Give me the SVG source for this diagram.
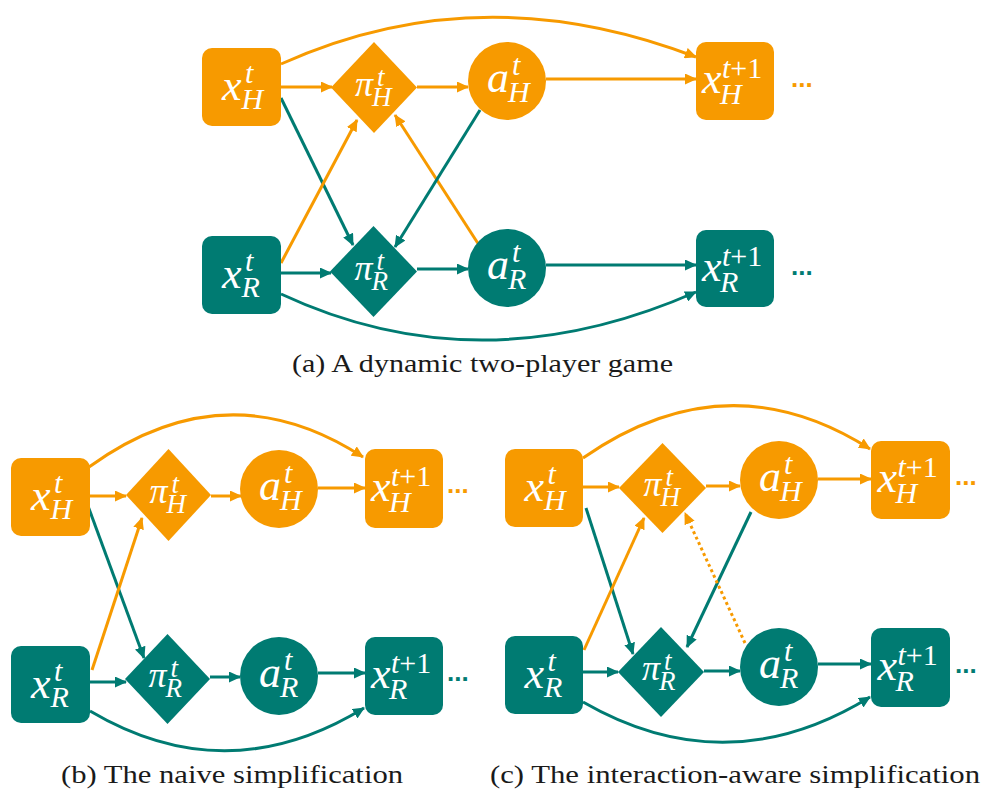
<svg xmlns="http://www.w3.org/2000/svg" width="982" height="793" viewBox="0 0 982 793" font-family="Liberation Serif, Times New Roman, serif">
  <style>
    .o { fill: #F79A00; }
    .t { fill: #007B72; }
    .eo { fill: none; stroke: #F79A00; stroke-width: 3; marker-end: url(#ah-o); }
    .et { fill: none; stroke: #007B72; stroke-width: 3; marker-end: url(#ah-t); }
    .dot { stroke-dasharray: 3 3; }
    .lbl { fill: #ffffff; font-style: italic; }
    .m { font-size: 44px; }
    .mp { font-size: 36px; }
    .s { font-size: 30px; }
    .sp { font-size: 27px; }
    .up { font-style: normal; }
    .cap { fill: #1a1a1a; font-size: 25px; }
    .ell { font-weight: bold; font-size: 26px; }
  </style>
  <defs>
    <marker id="ah-o" viewBox="0 0 12 11" refX="11" refY="5.5" markerWidth="12" markerHeight="11" markerUnits="userSpaceOnUse" orient="auto">
      <path d="M0,0 L12,5.5 L0,11 z" fill="#F79A00"/>
    </marker>
    <marker id="ah-t" viewBox="0 0 12 11" refX="11" refY="5.5" markerWidth="12" markerHeight="11" markerUnits="userSpaceOnUse" orient="auto">
      <path d="M0,0 L12,5.5 L0,11 z" fill="#007B72"/>
    </marker>
  </defs>

  <!-- ===== connectors ===== -->
  <g id="edges">
    <!-- (a) -->
    <path class="eo" d="M281,64 Q480,-26 696,57"/>
    <path class="eo" d="M281,87 L332,87"/>
    <path class="eo" d="M417,87 L468,87"/>
    <path class="eo" d="M546,79 L696,79"/>
    <path class="et" d="M281,98 L353,245"/>
    <path class="eo" d="M281,263 L357,120"/>
    <path class="eo" d="M479,245 L395,115"/>
    <path class="et" d="M480,110 L395,247"/>
    <path class="et" d="M281,273 L331,273"/>
    <path class="et" d="M417,269 L468,269"/>
    <path class="et" d="M546,265 L696,265"/>
    <path class="et" d="M281,294 Q480,387 696,292"/>

    <!-- (b) -->
    <path class="eo" d="M89,467 Q226,368 363,457"/>
    <path class="eo" d="M90,496 L126,496"/>
    <path class="eo" d="M211,496 L241,496"/>
    <path class="eo" d="M318,488 L365,488"/>
    <path class="et" d="M88,506 L144,658"/>
    <path class="eo" d="M92,670 L142,518"/>
    <path class="et" d="M90,682 L126,682"/>
    <path class="et" d="M210,677 L240,677"/>
    <path class="et" d="M318,673 L365,673"/>
    <path class="et" d="M90,711 Q227,792 364,708"/>

    <!-- (c) -->
    <path class="eo" d="M583,458 Q727,358 870,449"/>
    <path class="eo" d="M583,487 L619,487"/>
    <path class="eo" d="M706,486 L740,486"/>
    <path class="eo" d="M818,479 L871,479"/>
    <path class="et" d="M586,508 L633,654"/>
    <path class="eo" d="M584,650 L644,518"/>
    <path class="et" d="M751,512 L687,647"/>
    <path class="eo dot" d="M745,643 L685,513"/>
    <path class="et" d="M583,672 L618,672"/>
    <path class="et" d="M704,671 L740,671"/>
    <path class="et" d="M818,664 L871,664"/>
    <path class="et" d="M583,702 Q727,785 870,697"/>
  </g>

  <!-- ===== panel (a) nodes ===== -->
  <g id="a-xH" transform="translate(241.5,87)">
    <rect class="o" x="-39.5" y="-39" width="79" height="78" rx="10"/>
    <text class="lbl" font-family="Liberation Serif"><tspan class="m" x="-19.5" y="13">x</tspan><tspan class="s" x="3.5" y="-4">t</tspan><tspan class="s" x="0" y="22">H</tspan></text>
  </g>
  <g id="a-piH" transform="translate(374,87.5)">
    <path class="o" d="M0,-45.5 L43,0 L0,45.5 L-43,0 z"/>
    <text class="lbl" font-family="Liberation Serif"><tspan class="mp" x="-19" y="8">π</tspan><tspan class="sp" x="3" y="-2">t</tspan><tspan class="sp" x="-2" y="18">H</tspan></text>
  </g>
  <g id="a-aH" transform="translate(507,81)">
    <circle class="o" r="39"/>
    <text class="lbl" font-family="Liberation Serif"><tspan class="m" x="-20" y="11">a</tspan><tspan class="s" x="5" y="-6">t</tspan><tspan class="s" x="1" y="21">H</tspan></text>
  </g>
  <g id="a-xH1" transform="translate(735,81)">
    <rect class="o" x="-39" y="-39" width="78" height="78" rx="10"/>
    <text class="lbl" font-family="Liberation Serif"><tspan class="m" x="-33" y="12">x</tspan><tspan class="s" x="-13" y="-3">t<tspan class="up">+1</tspan></tspan><tspan class="s" x="-15" y="23">H</tspan></text>
    <text class="ell o" x="56" y="6" font-family="Liberation Sans">...</text>
  </g>
  <g id="a-xR" transform="translate(241.5,275)">
    <rect class="t" x="-39.5" y="-39" width="79" height="78" rx="10"/>
    <text class="lbl" font-family="Liberation Serif"><tspan class="m" x="-19.5" y="13">x</tspan><tspan class="s" x="3.5" y="-4">t</tspan><tspan class="s" x="0" y="22">R</tspan></text>
  </g>
  <g id="a-piR" transform="translate(373.5,271.5)">
    <path class="t" d="M0,-45.5 L43.5,0 L0,45.5 L-43.5,0 z"/>
    <text class="lbl" font-family="Liberation Serif"><tspan class="mp" x="-19" y="8">π</tspan><tspan class="sp" x="3" y="-2">t</tspan><tspan class="sp" x="-2" y="18">R</tspan></text>
  </g>
  <g id="a-aR" transform="translate(507,268)">
    <circle class="t" r="39"/>
    <text class="lbl" font-family="Liberation Serif"><tspan class="m" x="-20" y="11">a</tspan><tspan class="s" x="5" y="-6">t</tspan><tspan class="s" x="1" y="21">R</tspan></text>
  </g>
  <g id="a-xR1" transform="translate(735,268.5)">
    <rect class="t" x="-39" y="-38.5" width="78" height="77" rx="10"/>
    <text class="lbl" font-family="Liberation Serif"><tspan class="m" x="-33" y="12">x</tspan><tspan class="s" x="-13" y="-3">t<tspan class="up">+1</tspan></tspan><tspan class="s" x="-15" y="23">R</tspan></text>
    <text class="ell t" x="56" y="6" font-family="Liberation Sans">...</text>
  </g>

  <!-- ===== panel (b) nodes ===== -->
  <g id="b-xH" transform="translate(50.5,497)">
    <rect class="o" x="-39.5" y="-39" width="79" height="78" rx="10"/>
    <text class="lbl" font-family="Liberation Serif"><tspan class="m" x="-19.5" y="13">x</tspan><tspan class="s" x="3.5" y="-4">t</tspan><tspan class="s" x="0" y="22">H</tspan></text>
  </g>
  <g id="b-piH" transform="translate(168.5,495)">
    <path class="o" d="M0,-46 L42.5,0 L0,46 L-42.5,0 z"/>
    <text class="lbl" font-family="Liberation Serif"><tspan class="mp" x="-19" y="8">π</tspan><tspan class="sp" x="3" y="-2">t</tspan><tspan class="sp" x="-2" y="18">H</tspan></text>
  </g>
  <g id="b-aH" transform="translate(279,489)">
    <circle class="o" r="39"/>
    <text class="lbl" font-family="Liberation Serif"><tspan class="m" x="-20" y="11">a</tspan><tspan class="s" x="5" y="-6">t</tspan><tspan class="s" x="1" y="21">H</tspan></text>
  </g>
  <g id="b-xH1" transform="translate(404,488.5)">
    <rect class="o" x="-39" y="-39.5" width="78" height="79" rx="10"/>
    <text class="lbl" font-family="Liberation Serif"><tspan class="m" x="-33" y="12">x</tspan><tspan class="s" x="-13" y="-3">t<tspan class="up">+1</tspan></tspan><tspan class="s" x="-15" y="23">H</tspan></text>
    <text class="ell o" x="43" y="4" font-family="Liberation Sans">...</text>
  </g>
  <g id="b-xR" transform="translate(50.5,684.5)">
    <rect class="t" x="-39.5" y="-38.5" width="79" height="77" rx="10"/>
    <text class="lbl" font-family="Liberation Serif"><tspan class="m" x="-19.5" y="13">x</tspan><tspan class="s" x="3.5" y="-4">t</tspan><tspan class="s" x="0" y="22">R</tspan></text>
  </g>
  <g id="b-piR" transform="translate(167.5,679)">
    <path class="t" d="M0,-45 L42.5,0 L0,45 L-42.5,0 z"/>
    <text class="lbl" font-family="Liberation Serif"><tspan class="mp" x="-19" y="8">π</tspan><tspan class="sp" x="3" y="-2">t</tspan><tspan class="sp" x="-2" y="18">R</tspan></text>
  </g>
  <g id="b-aR" transform="translate(279,676)">
    <circle class="t" r="39"/>
    <text class="lbl" font-family="Liberation Serif"><tspan class="m" x="-20" y="11">a</tspan><tspan class="s" x="5" y="-6">t</tspan><tspan class="s" x="1" y="21">R</tspan></text>
  </g>
  <g id="b-xR1" transform="translate(404,676)">
    <rect class="t" x="-39" y="-39" width="78" height="78" rx="10"/>
    <text class="lbl" font-family="Liberation Serif"><tspan class="m" x="-33" y="12">x</tspan><tspan class="s" x="-13" y="-3">t<tspan class="up">+1</tspan></tspan><tspan class="s" x="-15" y="23">R</tspan></text>
    <text class="ell t" x="43" y="5" font-family="Liberation Sans">...</text>
  </g>

  <!-- ===== panel (c) nodes ===== -->
  <g id="c-xH" transform="translate(544,488)">
    <rect class="o" x="-39" y="-39" width="78" height="78" rx="10"/>
    <text class="lbl" font-family="Liberation Serif"><tspan class="m" x="-19.5" y="13">x</tspan><tspan class="s" x="3.5" y="-4">t</tspan><tspan class="s" x="0" y="22">H</tspan></text>
  </g>
  <g id="c-piH" transform="translate(662.5,488)">
    <path class="o" d="M0,-45 L43.5,0 L0,45 L-43.5,0 z"/>
    <text class="lbl" font-family="Liberation Serif"><tspan class="mp" x="-19" y="8">π</tspan><tspan class="sp" x="3" y="-2">t</tspan><tspan class="sp" x="-2" y="18">H</tspan></text>
  </g>
  <g id="c-aH" transform="translate(779,480)">
    <circle class="o" r="39"/>
    <text class="lbl" font-family="Liberation Serif"><tspan class="m" x="-20" y="11">a</tspan><tspan class="s" x="5" y="-6">t</tspan><tspan class="s" x="1" y="21">H</tspan></text>
  </g>
  <g id="c-xH1" transform="translate(910.5,480)">
    <rect class="o" x="-39.5" y="-39" width="79" height="78" rx="10"/>
    <text class="lbl" font-family="Liberation Serif"><tspan class="m" x="-33" y="12">x</tspan><tspan class="s" x="-13" y="-3">t<tspan class="up">+1</tspan></tspan><tspan class="s" x="-15" y="23">H</tspan></text>
    <text class="ell o" x="44.5" y="5" font-family="Liberation Sans">...</text>
  </g>
  <g id="c-xR" transform="translate(544,675)">
    <rect class="t" x="-39" y="-39" width="78" height="78" rx="10"/>
    <text class="lbl" font-family="Liberation Serif"><tspan class="m" x="-19.5" y="13">x</tspan><tspan class="s" x="3.5" y="-4">t</tspan><tspan class="s" x="0" y="22">R</tspan></text>
  </g>
  <g id="c-piR" transform="translate(661,672)">
    <path class="t" d="M0,-45 L43,0 L0,45 L-43,0 z"/>
    <text class="lbl" font-family="Liberation Serif"><tspan class="mp" x="-19" y="8">π</tspan><tspan class="sp" x="3" y="-2">t</tspan><tspan class="sp" x="-2" y="18">R</tspan></text>
  </g>
  <g id="c-aR" transform="translate(779,667)">
    <circle class="t" r="39"/>
    <text class="lbl" font-family="Liberation Serif"><tspan class="m" x="-20" y="11">a</tspan><tspan class="s" x="5" y="-6">t</tspan><tspan class="s" x="1" y="21">R</tspan></text>
  </g>
  <g id="c-xR1" transform="translate(910.5,667.5)">
    <rect class="t" x="-39.5" y="-39.5" width="79" height="79" rx="10"/>
    <text class="lbl" font-family="Liberation Serif"><tspan class="m" x="-33" y="12">x</tspan><tspan class="s" x="-13" y="-3">t<tspan class="up">+1</tspan></tspan><tspan class="s" x="-15" y="23">R</tspan></text>
    <text class="ell t" x="44.5" y="5" font-family="Liberation Sans">...</text>
  </g>

  <!-- ===== captions ===== -->
  <g id="captions">
    <text class="cap" font-family="Liberation Serif" x="292" y="372" textLength="381" lengthAdjust="spacingAndGlyphs">(a) A dynamic two-player game</text>
    <text class="cap" font-family="Liberation Serif" x="61" y="783" textLength="342" lengthAdjust="spacingAndGlyphs">(b) The naive simplification</text>
    <text class="cap" font-family="Liberation Serif" x="490" y="783" textLength="490" lengthAdjust="spacingAndGlyphs">(c) The interaction-aware simplification</text>
  </g>
</svg>
